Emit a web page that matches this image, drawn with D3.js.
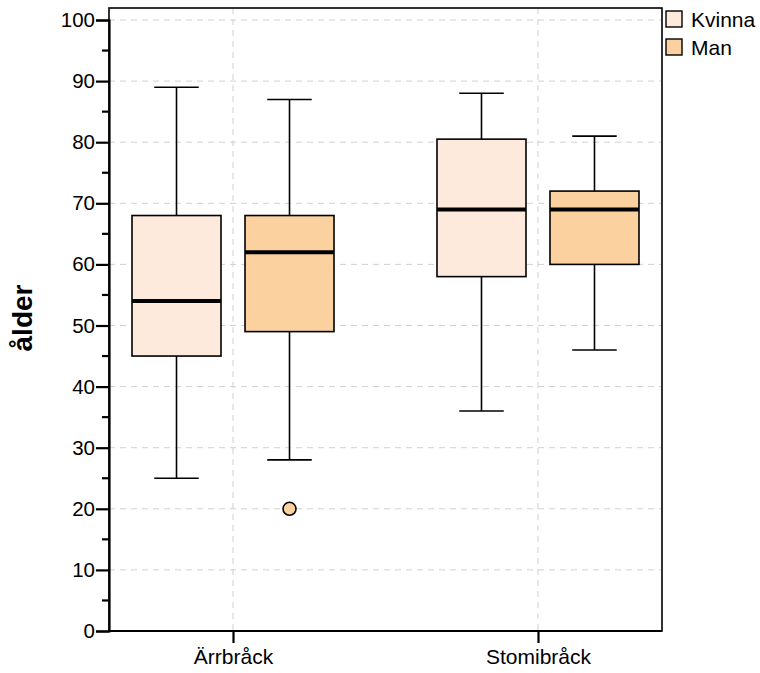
<!DOCTYPE html>
<html><head><meta charset="utf-8">
<script src="https://cdn.jsdelivr.net/npm/d3@7"></script>
<style>body{margin:0;background:#fff}svg{display:block}text{font-family:"Liberation Sans",Arial,sans-serif}</style>
</head><body>
<svg id="c" width="760" height="673"></svg>
<script>
const categories = ["Ärrbråck", "Stomibråck"];
const groups = ["Kvinna", "Man"];
const colors = ["#fdeadd", "#fbd1a0"];
const lowWhisker = [[25, 28], [36, 46]];
const q1 = [[45, 49], [58, 60]];
const median = [[54, 62], [69, 69]];
const q3 = [[68, 68], [80.5, 72]];
const highWhisker = [[89, 87], [88, 81]];
const outliers = [{cat: 0, grp: 1, v: 20}];
const yTicks = [0,10,20,30,40,50,60,70,80,90,100];

const FONT = '"Liberation Sans",Arial,sans-serif';
const svg = d3.select("#c");
const L = 109, R = 662, T = 8, B = 631;
const y = d3.scaleLinear().domain([0, 100]).range([B, 20]);
const x = d3.scalePoint().domain(categories).range([L, R]).padding(0.4066);
const xs = d3.scaleBand().domain(groups).range([-101, 101]).paddingInner(24/113).paddingOuter(0);

// grid
const g = svg.append("g");
g.selectAll(".hg").data(yTicks.filter(d=>d>0)).join("line")
  .attr("x1", L).attr("x2", R).attr("y1", d=>y(d)).attr("y2", d=>y(d))
  .attr("stroke", "#d0d0d0").attr("stroke-width", 1).attr("stroke-dasharray", "6,5");
g.selectAll(".vg").data(categories).join("line")
  .attr("x1", d=>x(d)).attr("x2", d=>x(d))
  .attr("y1", T).attr("y2", B)
  .attr("stroke", "#d0d0d0").attr("stroke-width", 1).attr("stroke-dasharray", "6,5");

// boxes
const boxes = [];
categories.forEach((c, ci) => groups.forEach((gr, gi) => boxes.push({c, ci, gr, gi})));
const bg = svg.selectAll(".box").data(boxes).join("g")
  .attr("transform", d => `translate(${x(d.c)},0)`);
bg.each(function(d){
  const s = d3.select(this);
  const x0 = xs(d.gr), w = xs.bandwidth(), cx = x0 + w/2;
  const lw = lowWhisker[d.ci][d.gi], hw = highWhisker[d.ci][d.gi];
  const a = q1[d.ci][d.gi], b = q3[d.ci][d.gi], m = median[d.ci][d.gi];
  s.append("line").attr("x1", cx).attr("x2", cx).attr("y1", y(hw)).attr("y2", y(b)).attr("stroke","#000").attr("stroke-width",1.6);
  s.append("line").attr("x1", cx).attr("x2", cx).attr("y1", y(a)).attr("y2", y(lw)).attr("stroke","#000").attr("stroke-width",1.6);
  s.append("line").attr("x1", cx - w/4).attr("x2", cx + w/4).attr("y1", y(hw)).attr("y2", y(hw)).attr("stroke","#000").attr("stroke-width",1.6);
  s.append("line").attr("x1", cx - w/4).attr("x2", cx + w/4).attr("y1", y(lw)).attr("y2", y(lw)).attr("stroke","#000").attr("stroke-width",1.6);
  s.append("rect").attr("x", x0).attr("width", w).attr("y", y(b)).attr("height", y(a) - y(b))
    .attr("fill", colors[d.gi]).attr("stroke", "#000").attr("stroke-width", 1.6);
  s.append("line").attr("x1", x0).attr("x2", x0 + w).attr("y1", y(m)).attr("y2", y(m)).attr("stroke","#000").attr("stroke-width",4);
  outliers.filter(o => o.cat === d.ci && o.grp === d.gi).forEach(o => {
    s.append("circle").attr("cx", cx).attr("cy", y(o.v)).attr("r", 6.5)
      .attr("fill", colors[d.gi]).attr("stroke", "#000").attr("stroke-width", 1.6);
  });
});

// frame
svg.append("rect").attr("x", L).attr("y", T).attr("width", R - L).attr("height", B - T)
  .attr("fill", "none").attr("stroke", "#000").attr("stroke-width", 1.6);

// y axis
const ya = svg.append("g").attr("transform", `translate(${L},0)`)
  .call(d3.axisLeft(y).tickValues(yTicks).tickSize(13).tickPadding(1).tickFormat(d3.format("d")));
ya.attr("font-size", null).attr("font-family", null);
ya.select(".domain").attr("stroke-width", 2.2);
ya.selectAll(".tick line").attr("stroke-width", 2.2);
ya.selectAll("text").style("font-size", "20.5px").attr("fill", "#000").style("font-family", FONT);
const minor = d3.range(5, 100, 10);
svg.append("g").selectAll("line").data(minor).join("line")
  .attr("x1", L - 7).attr("x2", L).attr("y1", d=>y(d)).attr("y2", d=>y(d)).attr("stroke","#000").attr("stroke-width",2.2);

// x axis
const xa = svg.append("g").attr("transform", `translate(0,${B})`)
  .call(d3.axisBottom(x).tickSize(12).tickPadding(6));
xa.attr("font-size", null).attr("font-family", null);
xa.select(".domain").attr("stroke-width", 2.2).attr("d", `M${L},0H${R}`);
xa.selectAll(".tick line").attr("stroke-width", 2.2);
xa.selectAll("text").style("font-size", "21px").attr("fill", "#000").style("font-family", FONT);

// y title
svg.append("text").attr("transform", "translate(32,318) rotate(-90)").attr("text-anchor", "middle")
  .style("font-size", "28px").attr("font-weight", "bold").style("font-family", FONT).text("ålder");

// legend
const lg = svg.append("g").selectAll("g").data(groups).join("g")
  .attr("transform", (d,i) => `translate(666,${11 + i*28})`);
lg.append("rect").attr("width", 16).attr("height", 16).attr("fill", (d,i)=>colors[i]).attr("stroke","#000").attr("stroke-width",1.4);
lg.append("text").attr("x", 25).attr("y", 15.5).style("font-size", "21px").style("font-family", FONT).text(d=>d);
</script>
</body></html>
